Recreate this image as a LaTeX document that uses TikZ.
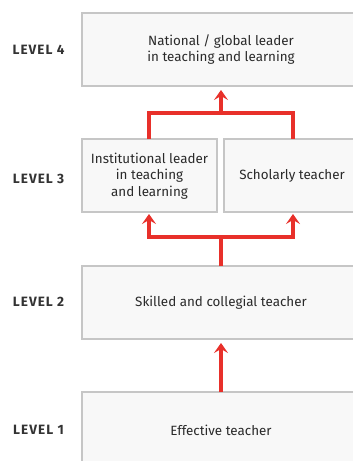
\documentclass[tikz,border=0pt]{standalone}
\usepackage{fontspec}
\setmainfont{Fira Sans}
\usetikzlibrary{arrows.meta}
\definecolor{boxfill}{HTML}{F8F8F8}
\definecolor{boxline}{HTML}{C6C6C6}
\definecolor{flow}{HTML}{E8302A}
\definecolor{lvltext}{HTML}{333333}
\definecolor{bodytext}{HTML}{2A2A2A}
\begin{document}
\begin{tikzpicture}[x=1pt,y=-1pt,
  stage/.style={draw=boxline, fill=boxfill, line width=1.4pt},
  stagetext/.style={font=\fontsize{13.4}{16.5}\selectfont, text=bodytext, align=center},
  lvl/.style={font=\fontsize{13.5}{15}\selectfont\bfseries\addfontfeatures{LetterSpace=8}, text=lvltext},
  flowline/.style={draw=flow, line width=3.3pt},
  flowarrow/.style={flowline, -{Stealth[length=10pt,width=14pt,inset=4pt]}}]
\useasboundingbox (0,0) rectangle (353,461);
\clip (0,0) rectangle (353,461);
% boxes (open to the right and bottom edges)
\draw[stage] (82,13) rectangle (370,86);
\draw[stage] (82,139) rectangle (217,212);
\draw[stage] (224,139) rectangle (370,212);
\draw[stage] (82,266) rectangle (370,339);
\draw[stage] (82,392) rectangle (370,480);
% box texts
\node[stagetext] (t4) at (221,49.5) {National / global leader\\in teaching and learning};
\node[stagetext] (t3a) at (149.5,176) {Institutional leader\\in teaching\\and learning};
\node[stagetext] (t3b) at (292,176) {Scholarly teacher};
\node[stagetext] (t2) at (221,302.5) {Skilled and collegial teacher};
\node[stagetext] (t1) at (221,430) {Effective teacher};
% level labels
\node[lvl] (l4) at (38.5,50) {LEVEL 4};
\node[lvl] (l3) at (38.5,179) {LEVEL 3};
\node[lvl] (l2) at (38.5,302) {LEVEL 2};
\node[lvl] (l1) at (38.5,430) {LEVEL 1};
% anchor points of the connectors
\coordinate (b4) at (221,90);
\coordinate (a3t) at (149,139);
\coordinate (b3t) at (293,139);
\coordinate (a3b) at (149,214);
\coordinate (b3b) at (293,214);
\coordinate (top2) at (221,266);
\coordinate (b2) at (221,343);
\coordinate (top1) at (221,392);
\coordinate (j3) at (221,113);
\coordinate (j2) at (221,237);
% level 3 -> level 4
\draw[flowline] (a3t) |- (j3) -| (b3t);
\draw[flowarrow] (j3) -- (b4);
% level 2 -> level 3
\draw[flowline] (top2) -- (j2);
\draw[flowarrow] (j2) -| (a3b);
\draw[flowarrow] (j2) -| (b3b);
% level 1 -> level 2
\draw[flowarrow] (top1) -- (b2);
\end{tikzpicture}
\end{document}
